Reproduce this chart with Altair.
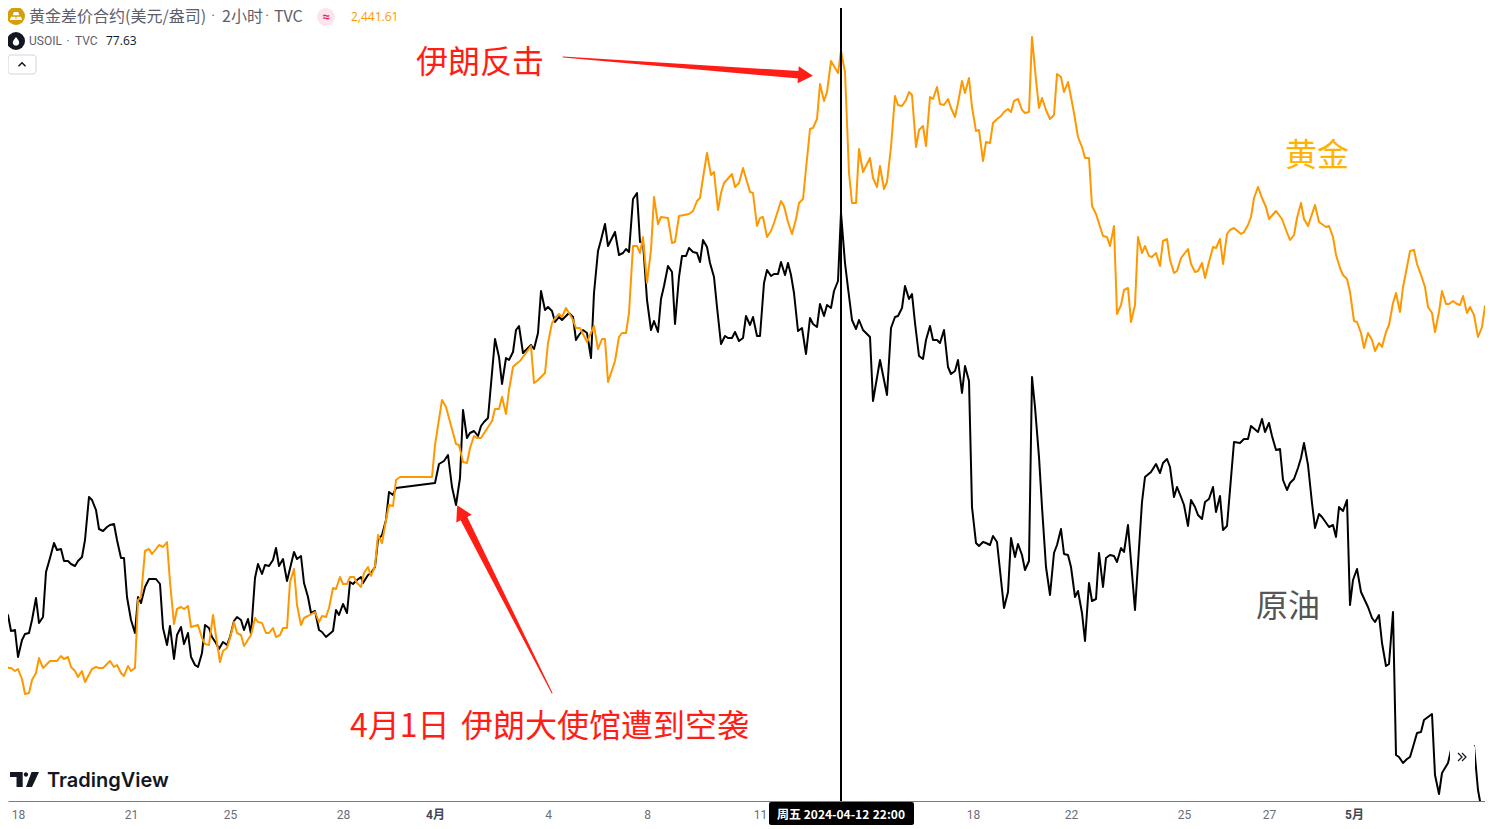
import altair as alt
import pandas as pd

# (time position along the axis, level on the shared percent-style scale)
oil_points = [
(0,143),(3,177),(8,185),(11,169),(15,170),(18,143),(22,160),(25,166),(29,167),(32,180),(36,202),(39,177),(43,183),(46,228),(50,242),(54,257),(57,250),(61,251),(64,239),(68,239),(71,236),(75,234),(78,239),(82,243),(85,260),(89,303),(92,300),(96,290),(99,271),(103,269),(107,273),(110,275),(114,276),(117,260),(121,242),(124,242),(127,203),(131,180),(135,167),(138,203),(141,197),(145,213),(149,221),(156,221),(160,216),(163,172),(167,155),(170,174),(174,141),(177,165),(181,173),(184,156),(188,167),(191,143),(195,135),(198,133),(202,147),(205,175),(209,172),(212,163),(216,157),(219,151),(223,158),(227,155),(230,163),(234,179),(237,183),(241,180),(244,170),(248,181),(251,166),(255,222),(258,236),(262,226),(265,235),(269,234),(273,240),(276,252),(279,234),(283,241),(287,219),(294,248),(297,241),(301,244),(304,217),(308,203),(311,187),(315,189),(319,170),(322,168),(326,163),(333,169),(336,190),(339,185),(343,196),(347,187),(350,218),(353,216),(357,220),(361,223),(363,217),(368,225),(371,227),(375,233),(378,260),(382,265),(386,280),(389,308),(393,305),(396,312),
(435,317),(439,336),(444,339),(448,345),(452,313),(456,295),(460,322),(463,390),(467,362),(470,367),(474,369),(478,364),(481,374),(484,378),(488,382),(495,461),(499,443),(502,416),(506,442),(509,440),(513,448),(516,470),(519,474),(523,447),(531,455),(534,451),(538,467),(541,509),(545,490),(548,493),(552,489),(555,478),(559,483),(562,480),(569,487),(573,483),(576,460),(579,465),(583,470),(587,467),(591,442),(594,507),(598,549),(601,560),(605,576),(608,554),(612,562),(615,568),(619,545),(623,547),(626,551),(629,548),(633,601),(637,607),(640,558),(643,558),(647,500),(651,470),(654,479),(658,468),(661,501),(664,514),(668,534),(672,528),(675,476),(679,523),(682,544),(686,544),(689,552),(693,548),(697,547),(700,538),(703,560),(707,553),(710,537),(714,523),(717,493),(721,456),(725,464),(728,462),(732,462),(735,468),(739,459),(743,462),(746,484),(750,475),(753,483),(757,464),(760,464),(764,517),(767,530),(771,524),(774,526),(778,526),(781,538),(785,525),(788,537),(791,525),(794,507),(798,469),(802,472),(806,446),(810,482),(813,476),(817,473),(820,496),(824,484),(827,495),(831,492),(834,509),(838,519),(841,587),
(845,537),(848,512),(852,480),(856,471),(859,480),(863,470),(870,463),(873,399),(880,440),(887,405),(891,472),(895,483),(898,484),(902,492),(905,514),(909,501),(912,506),(915,477),(919,444),(923,441),(926,460),(930,474),(933,460),(937,460),(940,457),(944,470),(948,433),(951,426),(955,429),(958,440),(962,407),(965,434),(969,419),(972,293),(976,257),(979,254),(983,258),(986,257),(990,255),(993,264),(997,258),(1004,192),(1008,208),(1011,262),(1015,243),(1018,256),(1022,245),(1025,230),(1029,239),(1032,423),(1035,393),(1039,343),(1042,293),(1046,233),(1050,205),(1054,247),(1057,255),(1061,271),(1064,246),(1068,245),(1071,233),(1075,203),(1078,209),(1082,187),(1085,159),(1089,217),(1092,199),(1096,201),(1099,247),(1103,213),(1106,242),(1110,245),(1114,244),(1117,238),(1121,252),(1124,248),(1128,275),(1135,190),(1142,298),(1145,323),(1151,328),(1156,336),(1160,327),(1163,337),(1167,341),(1170,333),(1174,303),(1177,313),(1181,303),(1184,295),(1188,274),(1191,300),(1195,293),(1198,285),(1202,281),(1205,298),(1209,301),(1213,313),(1216,288),(1220,304),(1223,270),(1227,274),(1234,358),(1240,357),(1244,361),(1248,361),(1251,374),(1258,368),(1262,381),(1265,368),(1269,377),(1272,364),(1276,350),(1280,351),(1283,320),(1287,310),(1290,317),(1294,321),(1298,332),(1301,342),(1304,357),(1308,335),(1312,297),(1315,272),(1319,286),(1322,283),(1329,273),(1333,275),(1336,263),(1339,293),(1343,289),(1347,300),(1350,195),(1353,220),(1357,231),(1361,208),(1368,193),(1372,182),(1375,178),(1379,185),(1382,157),(1386,134),(1389,136),(1393,188),(1396,45),(1399,43),(1403,37),(1407,41),(1410,43),(1413,53),(1417,67),(1421,68),(1424,80),(1432,86),(1435,25),(1439,6),(1442,27),(1448,37),(1451,50),(1470,29),(1474,54),(1478,10),(1480,-1),(1493,-30),
]

gold_points = [
(0,141),(3,140),(8,132),(11,132),(15,129),(18,131),(22,121),(25,106),(29,107),(32,120),(36,127),(39,142),(43,132),(47,136),(50,139),(57,139),(61,144),(64,141),(68,143),(71,133),(75,129),(78,123),(82,129),(85,118),(92,131),(96,133),(99,132),(103,132),(110,139),(114,133),(117,135),(121,127),(124,124),(128,134),(131,129),(135,132),(138,200),(141,203),(145,249),(149,251),(152,246),(156,251),(159,255),(163,253),(167,258),(170,218),(174,176),(177,191),(181,193),(184,191),(188,194),(191,173),(198,175),(202,162),(205,156),(209,155),(213,185),(217,157),(220,138),(223,149),(227,152),(230,162),(234,178),(237,167),(241,165),(244,154),(251,165),(255,182),(258,178),(262,177),(266,167),(269,167),(273,172),(276,163),(280,165),(283,172),(287,172),(290,218),(294,231),(297,195),(301,175),(304,182),(308,184),(315,188),(319,178),(322,184),(326,183),(329,192),(333,212),(336,211),(340,223),(343,216),(347,216),(350,223),(354,223),(357,217),(361,213),(364,227),(368,233),(371,224),(375,234),(378,265),(382,257),(386,280),(389,295),(393,294),(396,320),(400,323),
(432,323),(435,355),(442,400),(446,393),(456,356),(459,355),(463,338),(467,337),(470,352),(474,364),(477,362),(481,362),(492,379),(495,391),(499,391),(502,403),(506,386),(509,410),(513,433),(516,436),(520,439),(531,454),(534,417),(537,419),(541,423),(545,427),(548,457),(552,477),(556,483),(559,486),(562,483),(566,492),(569,487),(573,480),(576,472),(580,472),(587,458),(594,474),(598,451),(602,461),(605,461),(608,418),(615,439),(619,463),(622,467),(626,467),(629,487),(633,554),(637,554),(640,547),(643,563),(647,517),(651,550),(654,603),(658,576),(661,583),(668,582),(672,557),(675,558),(679,584),(689,586),(693,589),(697,599),(700,602),(703,622),(707,647),(711,625),(714,628),(718,590),(721,607),(724,617),(732,626),(735,613),(739,617),(743,632),(750,608),(753,607),(757,574),(760,582),(763,583),(767,563),(771,569),(774,577),(781,599),(784,594),(788,578),(792,566),(796,581),(799,597),(803,601),(810,671),(813,672),(817,681),(820,716),(824,699),(827,708),(831,739),(838,727),(841,749),
(845,728),(849,627),(852,597),(856,597),(859,651),(863,628),(870,642),(873,622),(877,613),(880,634),(884,611),(887,618),(891,653),(895,704),(898,695),(902,694),(906,700),(909,708),(912,705),(916,653),(919,670),(923,674),(926,654),(930,703),(933,701),(937,713),(940,696),(944,695),(948,701),(951,692),(955,683),(958,697),(962,719),(965,707),(969,722),(972,693),(976,669),(979,670),(983,639),(986,658),(990,657),(993,677),(997,681),(1001,684),(1004,688),(1008,691),(1011,688),(1014,699),(1018,701),(1022,690),(1025,687),(1029,688),(1032,763),(1036,720),(1039,692),(1042,702),(1046,690),(1050,681),(1054,685),(1057,726),(1061,723),(1064,708),(1068,718),(1071,703),(1074,687),(1078,663),(1082,653),(1085,642),(1089,642),(1092,594),(1096,586),(1103,564),(1107,563),(1110,554),(1114,574),(1117,486),(1121,495),(1124,510),(1128,512),(1131,478),(1135,495),(1138,563),(1142,547),(1145,554),(1149,544),(1152,543),(1156,547),(1160,534),(1163,559),(1167,561),(1170,540),(1174,527),(1177,529),(1181,542),(1188,551),(1191,536),(1195,528),(1198,529),(1202,537),(1205,522),(1209,538),(1213,553),(1216,552),(1220,561),(1223,536),(1227,566),(1230,570),(1234,572),(1241,566),(1244,568),(1248,575),(1251,583),(1254,602),(1258,613),(1262,602),(1266,593),(1269,581),(1276,589),(1282,581),(1286,570),(1290,560),(1294,565),(1297,582),(1301,597),(1304,581),(1308,574),(1315,595),(1319,578),(1326,573),(1329,574),(1333,563),(1336,545),(1340,532),(1343,525),(1347,521),(1350,508),(1354,479),(1357,478),(1361,467),(1364,452),(1368,467),(1372,460),(1375,449),(1379,457),(1382,453),(1386,468),(1389,475),(1393,497),(1396,507),(1400,488),(1403,513),(1407,533),(1410,549),(1414,550),(1417,536),(1421,525),(1425,513),(1428,493),(1432,487),(1435,468),(1439,488),(1442,509),(1446,496),(1449,496),(1453,499),(1457,496),(1460,495),(1463,504),(1467,487),(1470,493),(1474,485),(1478,463),(1482,473),(1485,494),(1488,493),(1492,494),(1496,483),
]

tick_positions = [18, 131, 230, 343, 435, 548, 647, 760, 973, 1071, 1184, 1269, 1354]
tick_labels = ["18", "21", "25", "28", "4月", "4", "8", "11", "18", "22", "25", "27", "5月"]
cursor_position = [841]
arrow_one = [(563, 743, 1.0), (799, 725.2, 7.5)]
arrow_two = [(552, 107, 1.0), (463.8, 281.6, 7.5)]

ORANGE = "#FF9800"
CJK = "Noto Sans CJK SC"
xs = alt.Scale(domain=[8, 1485], nice=False, zero=False)
ys = alt.Scale(domain=[-1, 792], nice=False, zero=False)

label_map = "{" + ",".join(f"'{p}':'{t}'" for p, t in zip(tick_positions, tick_labels)) + "}"
months = [p for p, t in zip(tick_positions, tick_labels) if "月" in t]
month_test = "||".join(f"datum.value=={m}" for m in months)

x_axis = alt.Axis(
    values=tick_positions, labelExpr=f"{label_map}[''+datum.value]", title=None, grid=False,
    ticks=False, domainColor="#787b86", domainWidth=1, labelFontSize=12, labelFont=f"Roboto, {CJK}",
    labelColor={"condition": {"test": month_test, "value": "#434651"}, "value": "#6a6d78"},
    labelFontWeight={"condition": {"test": month_test, "value": "bold"}, "value": "normal"},
    labelPadding=8, labelOverlap=False, labelFlush=False, labelBound=False,
)
X = lambda: alt.X("t:Q", scale=xs, axis=x_axis)
Y = lambda: alt.Y("level:Q", scale=ys, axis=None)

oil_df = pd.DataFrame(oil_points, columns=["t", "level"])
gold_df = pd.DataFrame(gold_points, columns=["t", "level"])

oil = alt.Chart(oil_df).mark_line(color="#000000", strokeWidth=2, clip=True, strokeJoin="round").encode(x=X(), y=Y())
gold = alt.Chart(gold_df).mark_line(color=ORANGE, strokeWidth=2, clip=True, strokeJoin="round").encode(x=X(), y=Y())
cursor = alt.Chart(pd.DataFrame({"t": cursor_position})).mark_rule(color="#000000", strokeWidth=2).encode(x=X())

blank = alt.Data(values=[{}])


def text(s, px, py, size, color, align="left", weight="normal", font=CJK):
    return alt.Chart(blank).mark_text(text=s, fontSize=size, color=color, align=align, baseline="middle",
                                      fontWeight=weight, font=font).encode(
        x=alt.value(px - 8), y=alt.value(py - 8))


def sym(shape, px, py, size, fill=None, stroke=None, sw=1.5, angle=0):
    kw = dict(shape=shape, size=size, angle=angle, opacity=1)
    if fill:
        kw.update(filled=True, fill=fill, strokeWidth=0)
    else:
        kw.update(filled=False, stroke=stroke, strokeWidth=sw, fillOpacity=0)
    return alt.Chart(blank).mark_point(**kw).encode(x=alt.value(px - 8), y=alt.value(py - 8))


def box(x0, x1, y0, y1, fill, stroke=None, radius=3):
    kw = dict(fill=fill, cornerRadius=radius)
    if stroke:
        kw.update(stroke=stroke, strokeWidth=1)
    return alt.Chart(blank).mark_rect(**kw).encode(
        x=alt.value(x0 - 8), x2=alt.value(x1 - 8), y=alt.value(y0 - 8), y2=alt.value(y1 - 8))


def arrow(points):
    df = pd.DataFrame(points, columns=["t", "level", "w"])
    return alt.Chart(df).mark_trail(color="#FF1E16").encode(
        x=X(), y=Y(), size=alt.Size("w:Q", scale=None, legend=None))


LOGO = ("M-1,-0.517L-0.124,-0.517L-0.124,0.517L-0.55,0.517L-0.55,-0.172L-1,-0.172Z"
        "M0.25,-0.345A0.15,0.15 0 1 1 -0.05,-0.345A0.15,0.15 0 1 1 0.25,-0.345Z"
        "M0.483,-0.517L1,-0.517L0.517,0.517L0.103,0.517Z")
BARS = ("M-0.35,-0.6L0.35,-0.6L0.5,-0.1L-0.5,-0.1Z"
        "M-0.75,0.1L-0.1,0.1L0,0.6L-0.95,0.6Z M0.1,0.1L0.75,0.1L0.95,0.6L0,0.6Z")
DROP = "M0,-1C0.5,-0.3 0.8,0 0.8,0.35A0.8,0.8 0 0 1 -0.8,0.35C-0.8,0 -0.5,-0.3 0,-1Z"
GREY = "#5d606b"
NUM = "Open Sans"

chart = alt.layer(
    oil, gold, cursor,
    # annotations
    arrow(arrow_one), sym("triangle-up", 805.5, 75.2, 290, fill="#FF1E16", angle=94),
    arrow(arrow_two), sym("triangle-up", 460.6, 512, 300, fill="#FF1E16", angle=333),
    text("伊朗反击", 416, 63, 32, "#FF1E16"),
    text("4月1日", 350, 727, 32, "#FF1E16"),
    text("伊朗大使馆遭到空袭", 461, 727, 32, "#FF1E16"),
    text("黄金", 1285, 156, 32, "#FFB300"),
    text("原油", 1256, 607, 32, "#555555"),
    # legend header
    sym("circle", 16, 16, 324, fill="#D69E0A"), sym(BARS, 16, 16, 169, fill="#FFFFFF"),
    text("黄金差价合约(美元/盎司)", 29, 17, 16, GREY),
    text("·", 213, 17, 14, GREY, align="center", font="Roboto"),
    text("2小时", 222, 17, 16, GREY),
    text("·", 267, 17, 14, GREY, align="center", font="Roboto"),
    text("TVC", 274, 17, 16, GREY),
    sym("circle", 326, 17, 324, fill="#FCE4EC"),
    text("≈", 326, 17, 13, "#E91E63", align="center", weight="bold", font="Roboto"),
    text("2,441.61", 351, 17, 12, ORANGE, font=NUM),
    sym("circle", 16, 41, 324, fill="#131722"), sym(DROP, 16, 41, 64, fill="#FFFFFF"),
    text("USOIL", 29, 41, 12, GREY, font="Roboto"),
    text("·", 68, 41, 12, GREY, align="center", font="Roboto"),
    text("TVC", 75, 41, 12, GREY, font="Roboto"),
    text("77.63", 106, 41, 12, "#131722", font=NUM),
    box(8, 36, 55, 74, "#FFFFFF", "#D1D4DC"),
    sym("M-1,0.5L0,-0.5L1,0.5", 22, 64.5, 49, stroke="#131722"),
    # watermark and widgets
    sym(LOGO, 24.5, 779.5, 841, fill="#131722"),
    text("TradingView", 47, 781, 20, "#131722", weight=600, font="Inter"),
    box(1450, 1475, 744, 772, "#FFFFFF", radius=4),
    sym("M-1,-1L0,0L-1,1M0,-1L1,0L0,1", 1462, 757, 64, stroke="#131722", sw=1.2),
    # crosshair time tag
    box(769, 914, 802, 825, "#000000", radius=2),
    text("周五 2024-04-12", 777, 815, 12, "#FFFFFF", weight="bold"),
    text("22:00", 905, 815, 12, "#FFFFFF", align="right", weight="bold"),
).properties(
    width=1477, height=793,
    autosize=alt.AutoSizeParams(type="none"),
    padding={"left": 0, "top": 0, "right": 0, "bottom": 28},
    background="#FFFFFF",
).configure_view(stroke=None)

chart.save("out.html", embed_options={"renderer": "svg", "actions": False})
